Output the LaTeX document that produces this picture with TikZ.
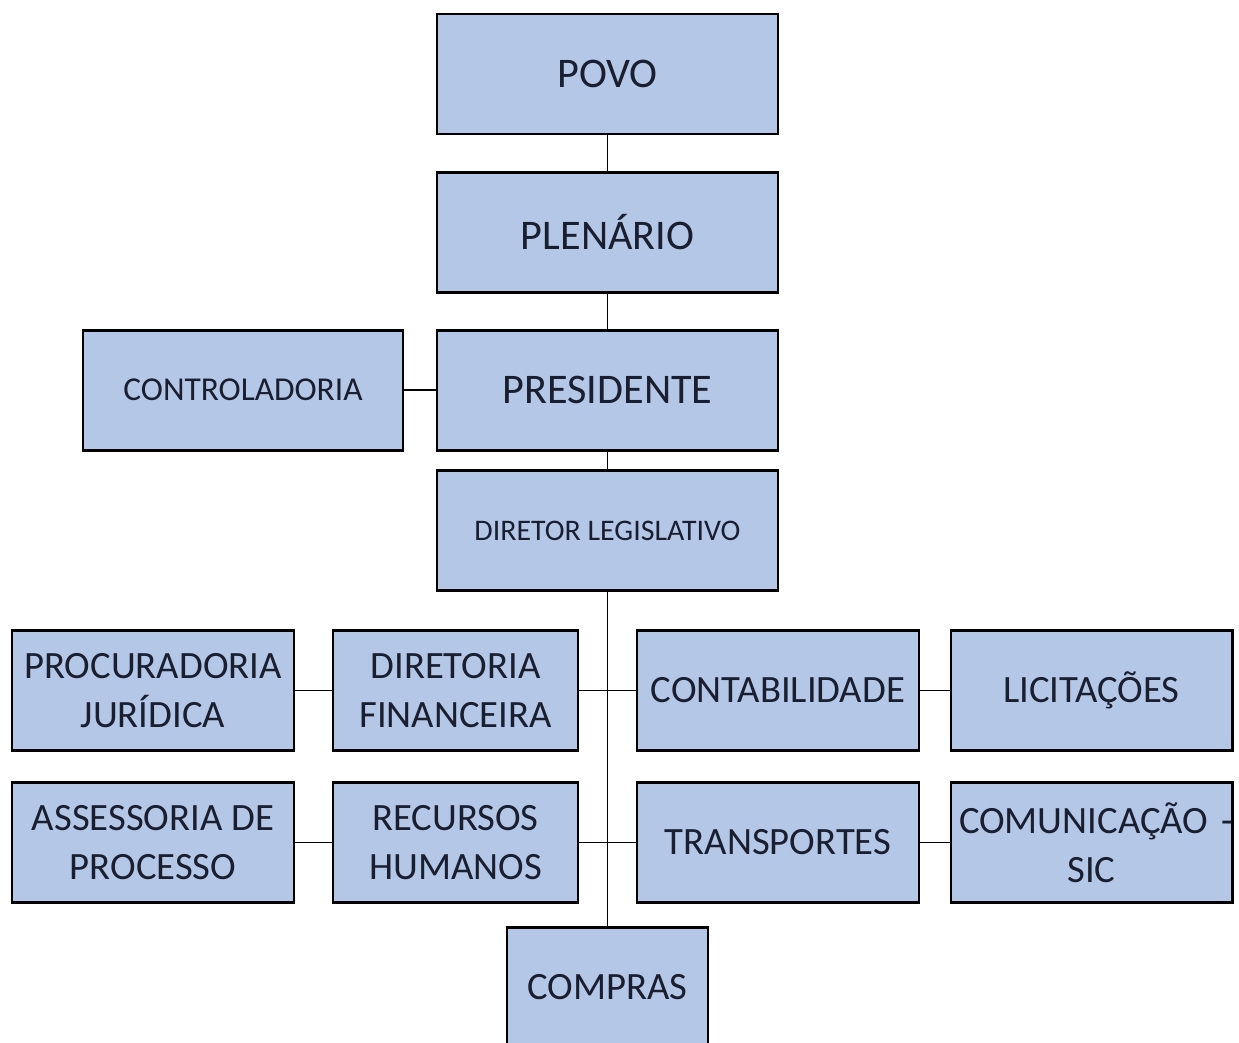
\documentclass[tikz,border=0pt]{standalone}
\usepackage{fontspec}
\setmainfont{Carlito}
\usepackage{tikz}

\definecolor{boxfill}{RGB}{180,199,231}
\definecolor{boxtext}{RGB}{25,30,48}

\begin{document}
\begin{tikzpicture}[
    orgbox/.style={draw=black, line width=1.7pt, fill=boxfill, text=boxtext,
      inner sep=0pt, align=center, minimum height=2.4cm},
    bigtext/.style={font=\fontsize{24}{28}\selectfont},
    midtext/.style={font=\fontsize{19}{22}\selectfont},
    smalltext/.style={font=\fontsize{17}{20}\selectfont},
    rowtext/.style={font=\fontsize{22}{28}\selectfont},
    link/.style={draw=black, line width=0.9pt}
  ]
    \useasboundingbox (0,0) rectangle (24.78cm,-20.86cm);
    \clip (0,0) rectangle (24.78cm,-20.86cm);

    % top chain
    \node[orgbox, bigtext, minimum width=6.82cm] (povo) at (12.15cm,-1.48cm) {POVO};
    \node[orgbox, bigtext, minimum width=6.82cm] (plenario) at (12.15cm,-4.65cm) {PLENÁRIO};
    \node[orgbox, bigtext, minimum width=6.82cm] (presidente) at (12.15cm,-7.80cm) {PRESIDENTE};
    \node[orgbox, midtext, minimum width=6.40cm] (controladoria) at (4.86cm,-7.80cm) {CONTROLADORIA};
    \node[orgbox, smalltext, minimum width=6.82cm] (diretor) at (12.15cm,-10.61cm) {DIRETOR LEGISLATIVO};

    % first row
    \node[orgbox, rowtext, minimum width=5.64cm] (procuradoria) at (3.06cm,-13.81cm) {PROCURADORIA\\JURÍDICA};
    \node[orgbox, rowtext, minimum width=4.90cm] (financeira) at (9.11cm,-13.81cm) {DIRETORIA\\FINANCEIRA};
    \node[orgbox, rowtext, minimum width=5.64cm] (contabilidade) at (15.56cm,-13.81cm) {CONTABILIDADE};
    \node[orgbox, rowtext, minimum width=5.62cm] (licitacoes) at (21.83cm,-13.81cm) {LICITAÇÕES};

    % second row
    \node[orgbox, rowtext, minimum width=5.64cm] (assessoria) at (3.06cm,-16.85cm) {ASSESSORIA DE\\PROCESSO};
    \node[orgbox, rowtext, minimum width=4.90cm] (recursos) at (9.11cm,-16.85cm) {RECURSOS\\HUMANOS};
    \node[orgbox, rowtext, minimum width=5.64cm] (transportes) at (15.56cm,-16.85cm) {TRANSPORTES};
    \node[orgbox, rowtext, text width=5.62cm] (comunicacao) at (21.83cm,-16.85cm) {\mbox{\hspace{0.16cm}COMUNICAÇÃO -}\\SIC};

    \node[orgbox, rowtext, minimum width=4.02cm] (compras) at (12.15cm,-19.74cm) {COMPRAS};

    % connectors
    \draw[link] (povo.south) -- (plenario.north);
    \draw[link] (plenario.south) -- (presidente.north);
    \draw[link] (presidente.west) -- (controladoria.east);
    \draw[link] (presidente.south) -- (diretor.north);
    \draw[link] (diretor.south) -- (compras.north);
    \draw[link] (procuradoria.east) -- (financeira.west);
    \draw[link] (financeira.east) -- (contabilidade.west);
    \draw[link] (contabilidade.east) -- (licitacoes.west);
    \draw[link] (assessoria.east) -- (recursos.west);
    \draw[link] (recursos.east) -- (transportes.west);
    \draw[link] (transportes.east) -- (comunicacao.west);
\end{tikzpicture}
\end{document}
